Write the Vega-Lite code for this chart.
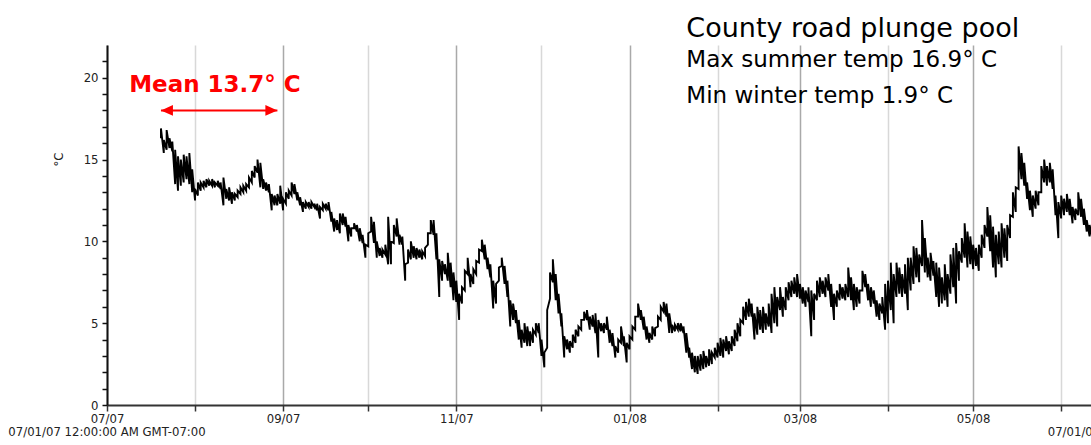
{
  "$schema": "https://vega.github.io/schema/vega-lite/v6.json",
  "width": 984,
  "height": 360,
  "autosize": {"type": "none"},
  "padding": {"left": 107, "top": 45, "right": 0, "bottom": 40},
  "background": "white",
  "config": {"view": {"stroke": null}},
  "encoding": {
    "x": {
      "field": "d",
      "type": "temporal",
      "scale": {"domain": [{"year": 2007, "month": 7, "date": 1}, {"year": 2008, "month": 6, "date": 11, "hours": 12}]},
      "axis": {
        "title": null,
        "tickCount": {"interval": "month", "step": 1},
        "grid": true,
        "gridColor": {"condition": {"test": "month(datum.value) % 2 === 0", "value": "#a9a9a9"}, "value": "#d8d8d8"},
        "gridWidth": 1.5,
        "labelExpr": "month(datum.value) % 2 === 0 ? timeFormat(datum.value, '%m/%y') : ''",
        "labelFlush": false,
        "labelOverlap": false,
        "labelFont": "DejaVu Sans",
        "labelFontSize": 11.7,
        "labelColor": "#222222",
        "labelPadding": 2,
        "domainColor": "#333333",
        "domainWidth": 2,
        "tickColor": "#333333",
        "tickWidth": 1.5,
        "tickSize": 6
      }
    },
    "y": {
      "field": "temp",
      "type": "quantitative",
      "scale": {"domain": [0, 22], "nice": false},
      "axis": {
        "title": "°C",
        "titleFont": "DejaVu Sans",
        "titleFontSize": 11.7,
        "titleFontWeight": "normal",
        "titleColor": "#222222",
        "titleX": -49,
        "titleY": 114,
        "titleAlign": "center",
        "titleBaseline": "middle",
        "values": [0, 1, 2, 3, 4, 5, 6, 7, 8, 9, 10, 11, 12, 13, 14, 15, 16, 17, 18, 19, 20, 21],
        "labelExpr": "datum.value % 5 === 0 ? datum.label : ''",
        "labelFont": "DejaVu Sans",
        "labelFontSize": 11.7,
        "labelColor": "#222222",
        "labelPadding": 4,
        "grid": false,
        "domainColor": "#111111",
        "domainWidth": 2,
        "tickColor": "#111111",
        "tickWidth": 1.5,
        "tickSize": 5
      }
    }
  },
  "layer": [
    {
      "data": {
        "format": {"parse": {"d": "date:'%Y-%m-%d'"}},
        "values": [
          {"d":"2007-07-20","lo":16.3,"hi":16.9},{"d":"2007-07-21","lo":15.4,"hi":16.2},{"d":"2007-07-22","lo":15.6,"hi":16.8},{"d":"2007-07-23","lo":15.7,"hi":16.3},{"d":"2007-07-24","lo":15.5,"hi":16.1},{"d":"2007-07-25","lo":13.5,"hi":15.6},{"d":"2007-07-26","lo":13.1,"hi":15.2},{"d":"2007-07-27","lo":13.4,"hi":15.0},{"d":"2007-07-28","lo":13.6,"hi":15.3},{"d":"2007-07-29","lo":13.8,"hi":15.2},{"d":"2007-07-30","lo":13.5,"hi":15.4},{"d":"2007-07-31","lo":13.0,"hi":14.4},
          {"d":"2007-08-01","lo":12.5,"hi":13.2},{"d":"2007-08-02","lo":12.8,"hi":13.6},{"d":"2007-08-03","lo":13.1,"hi":13.6},{"d":"2007-08-04","lo":13.3,"hi":13.7},{"d":"2007-08-05","lo":13.3,"hi":13.8},{"d":"2007-08-06","lo":13.4,"hi":13.7},{"d":"2007-08-07","lo":13.4,"hi":13.8},{"d":"2007-08-08","lo":13.3,"hi":13.6},{"d":"2007-08-09","lo":13.4,"hi":13.7},{"d":"2007-08-10","lo":13.2,"hi":13.6},{"d":"2007-08-11","lo":12.2,"hi":13.9},{"d":"2007-08-12","lo":12.6,"hi":13.2},{"d":"2007-08-13","lo":12.5,"hi":13.3},{"d":"2007-08-14","lo":12.3,"hi":13.0},{"d":"2007-08-15","lo":12.5,"hi":12.9},{"d":"2007-08-16","lo":12.7,"hi":13.1},{"d":"2007-08-17","lo":12.9,"hi":13.3},{"d":"2007-08-18","lo":13.0,"hi":13.4},{"d":"2007-08-19","lo":13.1,"hi":13.5},{"d":"2007-08-20","lo":13.3,"hi":13.9},{"d":"2007-08-21","lo":13.6,"hi":14.3},{"d":"2007-08-22","lo":13.9,"hi":14.6},{"d":"2007-08-23","lo":14.2,"hi":15.0},{"d":"2007-08-24","lo":13.3,"hi":14.8},{"d":"2007-08-25","lo":13.2,"hi":13.8},{"d":"2007-08-26","lo":13.1,"hi":13.6},{"d":"2007-08-27","lo":13.0,"hi":13.5},{"d":"2007-08-28","lo":11.9,"hi":12.9},{"d":"2007-08-29","lo":12.2,"hi":12.8},{"d":"2007-08-30","lo":12.2,"hi":12.9},{"d":"2007-08-31","lo":12.3,"hi":13.4},
          {"d":"2007-09-01","lo":11.9,"hi":12.6},{"d":"2007-09-02","lo":12.3,"hi":13.0},{"d":"2007-09-03","lo":12.6,"hi":13.1},{"d":"2007-09-04","lo":12.8,"hi":13.6},{"d":"2007-09-05","lo":12.9,"hi":13.5},{"d":"2007-09-06","lo":12.5,"hi":13.0},{"d":"2007-09-07","lo":12.2,"hi":12.7},{"d":"2007-09-08","lo":11.8,"hi":12.4},{"d":"2007-09-09","lo":12.0,"hi":12.4},{"d":"2007-09-10","lo":12.1,"hi":12.4},{"d":"2007-09-11","lo":12.0,"hi":12.4},{"d":"2007-09-12","lo":12.1,"hi":12.3},{"d":"2007-09-13","lo":11.9,"hi":12.3},{"d":"2007-09-14","lo":11.4,"hi":12.1},{"d":"2007-09-15","lo":11.9,"hi":12.3},{"d":"2007-09-16","lo":12.0,"hi":12.3},{"d":"2007-09-17","lo":11.9,"hi":12.4},{"d":"2007-09-18","lo":11.2,"hi":11.8},{"d":"2007-09-19","lo":10.6,"hi":11.4},{"d":"2007-09-20","lo":10.7,"hi":11.3},{"d":"2007-09-21","lo":10.5,"hi":11.7},{"d":"2007-09-22","lo":11.0,"hi":11.7},{"d":"2007-09-23","lo":10.9,"hi":11.5},{"d":"2007-09-24","lo":10.0,"hi":11.0},{"d":"2007-09-25","lo":10.3,"hi":10.8},{"d":"2007-09-26","lo":10.8,"hi":11.1},{"d":"2007-09-27","lo":10.6,"hi":11.0},{"d":"2007-09-28","lo":10.0,"hi":10.8},{"d":"2007-09-29","lo":9.9,"hi":10.4},{"d":"2007-09-30","lo":9.0,"hi":9.8},
          {"d":"2007-10-01","lo":9.7,"hi":10.5},{"d":"2007-10-02","lo":10.6,"hi":11.5},{"d":"2007-10-03","lo":9.9,"hi":11.2},{"d":"2007-10-04","lo":9.0,"hi":10.0},{"d":"2007-10-05","lo":9.1,"hi":9.6},{"d":"2007-10-06","lo":9.0,"hi":9.5},{"d":"2007-10-07","lo":9.2,"hi":9.8},{"d":"2007-10-08","lo":8.6,"hi":11.5},{"d":"2007-10-09","lo":8.6,"hi":10.0},{"d":"2007-10-10","lo":9.9,"hi":11.0},{"d":"2007-10-11","lo":10.3,"hi":11.4},{"d":"2007-10-12","lo":9.8,"hi":10.4},{"d":"2007-10-13","lo":9.8,"hi":10.3},{"d":"2007-10-14","lo":7.6,"hi":8.6},{"d":"2007-10-15","lo":8.7,"hi":9.5},{"d":"2007-10-16","lo":8.9,"hi":10.0},{"d":"2007-10-17","lo":9.0,"hi":9.7},{"d":"2007-10-18","lo":8.9,"hi":9.6},{"d":"2007-10-19","lo":9.0,"hi":9.5},{"d":"2007-10-20","lo":8.9,"hi":9.4},{"d":"2007-10-21","lo":9.1,"hi":9.6},{"d":"2007-10-22","lo":9.8,"hi":10.5},{"d":"2007-10-23","lo":10.5,"hi":11.3},{"d":"2007-10-24","lo":10.4,"hi":11.3},{"d":"2007-10-25","lo":8.9,"hi":10.5},{"d":"2007-10-26","lo":6.6,"hi":8.9},{"d":"2007-10-27","lo":7.6,"hi":8.8},{"d":"2007-10-28","lo":8.0,"hi":8.6},{"d":"2007-10-29","lo":7.6,"hi":9.3},{"d":"2007-10-30","lo":7.2,"hi":8.7},{"d":"2007-10-31","lo":6.4,"hi":8.1},
          {"d":"2007-11-01","lo":6.3,"hi":7.6},{"d":"2007-11-02","lo":5.2,"hi":6.8},{"d":"2007-11-03","lo":6.2,"hi":7.2},{"d":"2007-11-04","lo":7.0,"hi":8.2},{"d":"2007-11-05","lo":8.0,"hi":9.0},{"d":"2007-11-06","lo":7.2,"hi":8.0},{"d":"2007-11-07","lo":7.4,"hi":8.3},{"d":"2007-11-08","lo":8.0,"hi":8.8},{"d":"2007-11-09","lo":8.7,"hi":9.5},{"d":"2007-11-10","lo":9.4,"hi":10.1},{"d":"2007-11-11","lo":8.9,"hi":9.8},{"d":"2007-11-12","lo":8.3,"hi":9.0},{"d":"2007-11-13","lo":7.8,"hi":8.6},{"d":"2007-11-14","lo":5.9,"hi":7.6},{"d":"2007-11-15","lo":6.2,"hi":7.4},{"d":"2007-11-16","lo":7.6,"hi":8.4},{"d":"2007-11-17","lo":8.5,"hi":9.0},{"d":"2007-11-18","lo":7.4,"hi":8.5},{"d":"2007-11-19","lo":6.6,"hi":7.6},{"d":"2007-11-20","lo":4.8,"hi":6.4},{"d":"2007-11-21","lo":5.2,"hi":6.2},{"d":"2007-11-22","lo":5.0,"hi":5.8},{"d":"2007-11-23","lo":4.0,"hi":5.2},{"d":"2007-11-24","lo":3.5,"hi":4.6},{"d":"2007-11-25","lo":3.8,"hi":5.0},{"d":"2007-11-26","lo":3.6,"hi":4.8},{"d":"2007-11-27","lo":3.6,"hi":4.5},{"d":"2007-11-28","lo":3.8,"hi":4.6},{"d":"2007-11-29","lo":4.3,"hi":5.0},{"d":"2007-11-30","lo":4.4,"hi":5.0},
          {"d":"2007-12-01","lo":3.0,"hi":4.0},{"d":"2007-12-02","lo":2.3,"hi":3.2},{"d":"2007-12-03","lo":3.5,"hi":5.8},{"d":"2007-12-04","lo":6.5,"hi":8.1},{"d":"2007-12-05","lo":7.5,"hi":8.9},{"d":"2007-12-06","lo":6.4,"hi":8.0},{"d":"2007-12-07","lo":5.6,"hi":6.8},{"d":"2007-12-08","lo":4.8,"hi":5.6},{"d":"2007-12-09","lo":2.9,"hi":4.2},{"d":"2007-12-10","lo":3.4,"hi":4.0},{"d":"2007-12-11","lo":3.2,"hi":3.9},{"d":"2007-12-12","lo":3.5,"hi":4.3},{"d":"2007-12-13","lo":3.8,"hi":4.6},{"d":"2007-12-14","lo":4.2,"hi":4.8},{"d":"2007-12-15","lo":4.6,"hi":5.2},{"d":"2007-12-16","lo":5.2,"hi":5.7},{"d":"2007-12-17","lo":5.2,"hi":5.8},{"d":"2007-12-18","lo":4.6,"hi":5.4},{"d":"2007-12-19","lo":4.8,"hi":5.5},{"d":"2007-12-20","lo":4.4,"hi":5.6},{"d":"2007-12-21","lo":2.9,"hi":5.2},{"d":"2007-12-22","lo":4.5,"hi":5.0},{"d":"2007-12-23","lo":4.4,"hi":5.0},{"d":"2007-12-24","lo":4.6,"hi":5.4},{"d":"2007-12-25","lo":3.8,"hi":4.6},{"d":"2007-12-26","lo":3.6,"hi":4.4},{"d":"2007-12-27","lo":2.9,"hi":3.6},{"d":"2007-12-28","lo":3.2,"hi":4.0},{"d":"2007-12-29","lo":3.8,"hi":4.8},{"d":"2007-12-30","lo":3.6,"hi":4.2},{"d":"2007-12-31","lo":2.6,"hi":3.8},
          {"d":"2008-01-01","lo":3.4,"hi":4.2},{"d":"2008-01-02","lo":4.0,"hi":4.8},{"d":"2008-01-03","lo":4.6,"hi":5.4},{"d":"2008-01-04","lo":5.4,"hi":6.2},{"d":"2008-01-05","lo":5.2,"hi":5.8},{"d":"2008-01-06","lo":4.6,"hi":5.4},{"d":"2008-01-07","lo":4.0,"hi":4.8},{"d":"2008-01-08","lo":3.8,"hi":4.4},{"d":"2008-01-09","lo":4.0,"hi":4.8},{"d":"2008-01-10","lo":4.2,"hi":4.7},{"d":"2008-01-11","lo":4.8,"hi":5.4},{"d":"2008-01-12","lo":5.2,"hi":6.0},{"d":"2008-01-13","lo":5.7,"hi":6.3},{"d":"2008-01-14","lo":5.4,"hi":6.2},{"d":"2008-01-15","lo":4.4,"hi":5.6},{"d":"2008-01-16","lo":4.4,"hi":4.9},{"d":"2008-01-17","lo":4.5,"hi":4.9},{"d":"2008-01-18","lo":4.6,"hi":5.0},{"d":"2008-01-19","lo":4.5,"hi":5.0},{"d":"2008-01-20","lo":4.4,"hi":4.8},{"d":"2008-01-21","lo":3.2,"hi":4.4},{"d":"2008-01-22","lo":2.9,"hi":3.5},{"d":"2008-01-23","lo":2.2,"hi":3.2},{"d":"2008-01-24","lo":2.0,"hi":3.0},{"d":"2008-01-25","lo":1.9,"hi":3.0},{"d":"2008-01-26","lo":2.1,"hi":3.1},{"d":"2008-01-27","lo":2.2,"hi":3.3},{"d":"2008-01-28","lo":2.3,"hi":3.0},{"d":"2008-01-29","lo":2.4,"hi":3.4},{"d":"2008-01-30","lo":2.5,"hi":3.2},{"d":"2008-01-31","lo":2.9,"hi":3.5},
          {"d":"2008-02-01","lo":2.9,"hi":3.8},{"d":"2008-02-02","lo":3.0,"hi":4.1},{"d":"2008-02-03","lo":2.9,"hi":4.0},{"d":"2008-02-04","lo":3.3,"hi":4.2},{"d":"2008-02-05","lo":3.1,"hi":3.9},{"d":"2008-02-06","lo":3.3,"hi":4.2},{"d":"2008-02-07","lo":3.6,"hi":4.6},{"d":"2008-02-08","lo":3.9,"hi":5.0},{"d":"2008-02-09","lo":4.2,"hi":5.2},{"d":"2008-02-10","lo":5.0,"hi":6.0},{"d":"2008-02-11","lo":5.2,"hi":6.3},{"d":"2008-02-12","lo":5.4,"hi":6.5},{"d":"2008-02-13","lo":5.4,"hi":6.2},{"d":"2008-02-14","lo":4.0,"hi":5.6},{"d":"2008-02-15","lo":4.3,"hi":6.0},{"d":"2008-02-16","lo":4.6,"hi":5.8},{"d":"2008-02-17","lo":4.4,"hi":6.0},{"d":"2008-02-18","lo":4.6,"hi":5.6},{"d":"2008-02-19","lo":4.8,"hi":6.2},{"d":"2008-02-20","lo":4.4,"hi":6.8},{"d":"2008-02-21","lo":5.0,"hi":7.2},{"d":"2008-02-22","lo":4.8,"hi":6.6},{"d":"2008-02-23","lo":5.8,"hi":7.2},{"d":"2008-02-24","lo":5.4,"hi":6.6},{"d":"2008-02-25","lo":5.8,"hi":7.2},{"d":"2008-02-26","lo":6.4,"hi":7.5},{"d":"2008-02-27","lo":6.6,"hi":7.6},{"d":"2008-02-28","lo":6.8,"hi":7.8},{"d":"2008-02-29","lo":6.6,"hi":8.0},
          {"d":"2008-03-01","lo":6.5,"hi":7.4},{"d":"2008-03-02","lo":6.2,"hi":7.2},{"d":"2008-03-03","lo":6.0,"hi":7.0},{"d":"2008-03-04","lo":6.3,"hi":7.2},{"d":"2008-03-05","lo":4.2,"hi":7.0},{"d":"2008-03-06","lo":5.2,"hi":6.8},{"d":"2008-03-07","lo":6.4,"hi":7.6},{"d":"2008-03-08","lo":6.6,"hi":7.8},{"d":"2008-03-09","lo":6.8,"hi":7.6},{"d":"2008-03-10","lo":6.6,"hi":7.8},{"d":"2008-03-11","lo":7.0,"hi":8.0},{"d":"2008-03-12","lo":6.0,"hi":7.4},{"d":"2008-03-13","lo":5.2,"hi":6.8},{"d":"2008-03-14","lo":6.0,"hi":7.0},{"d":"2008-03-15","lo":6.4,"hi":7.4},{"d":"2008-03-16","lo":6.5,"hi":7.2},{"d":"2008-03-17","lo":6.4,"hi":7.4},{"d":"2008-03-18","lo":6.6,"hi":8.4},{"d":"2008-03-19","lo":6.4,"hi":7.8},{"d":"2008-03-20","lo":5.8,"hi":7.4},{"d":"2008-03-21","lo":6.0,"hi":7.2},{"d":"2008-03-22","lo":6.2,"hi":7.0},{"d":"2008-03-23","lo":7.0,"hi":8.2},{"d":"2008-03-24","lo":7.2,"hi":8.0},{"d":"2008-03-25","lo":6.4,"hi":7.4},{"d":"2008-03-26","lo":6.0,"hi":7.2},{"d":"2008-03-27","lo":6.2,"hi":7.0},{"d":"2008-03-28","lo":5.4,"hi":6.4},{"d":"2008-03-29","lo":5.2,"hi":6.2},{"d":"2008-03-30","lo":5.6,"hi":6.6},{"d":"2008-03-31","lo":4.6,"hi":7.4},
          {"d":"2008-04-01","lo":5.0,"hi":7.6},{"d":"2008-04-02","lo":5.8,"hi":8.7},{"d":"2008-04-03","lo":5.0,"hi":8.0},{"d":"2008-04-04","lo":6.6,"hi":8.7},{"d":"2008-04-05","lo":6.8,"hi":8.4},{"d":"2008-04-06","lo":6.6,"hi":8.0},{"d":"2008-04-07","lo":6.8,"hi":8.6},{"d":"2008-04-08","lo":5.8,"hi":9.0},{"d":"2008-04-09","lo":7.0,"hi":9.0},{"d":"2008-04-10","lo":7.4,"hi":9.7},{"d":"2008-04-11","lo":7.8,"hi":9.6},{"d":"2008-04-12","lo":7.5,"hi":9.2},{"d":"2008-04-13","lo":8.5,"hi":11.3},{"d":"2008-04-14","lo":8.1,"hi":10.2},{"d":"2008-04-15","lo":7.8,"hi":9.0},{"d":"2008-04-16","lo":7.6,"hi":9.3},{"d":"2008-04-17","lo":7.9,"hi":8.8},{"d":"2008-04-18","lo":6.6,"hi":8.7},{"d":"2008-04-19","lo":6.0,"hi":8.4},{"d":"2008-04-20","lo":6.2,"hi":7.8},{"d":"2008-04-21","lo":6.4,"hi":8.6},{"d":"2008-04-22","lo":6.0,"hi":8.0},{"d":"2008-04-23","lo":6.8,"hi":9.2},{"d":"2008-04-24","lo":7.2,"hi":9.6},{"d":"2008-04-25","lo":6.2,"hi":9.9},{"d":"2008-04-26","lo":7.6,"hi":9.4},{"d":"2008-04-27","lo":8.7,"hi":10.2},{"d":"2008-04-28","lo":9.0,"hi":11.1},{"d":"2008-04-29","lo":8.4,"hi":10.6},{"d":"2008-04-30","lo":8.6,"hi":10.3},
          {"d":"2008-05-01","lo":8.3,"hi":9.8},{"d":"2008-05-02","lo":8.5,"hi":9.6},{"d":"2008-05-03","lo":8.2,"hi":9.8},{"d":"2008-05-04","lo":9.0,"hi":10.4},{"d":"2008-05-05","lo":9.6,"hi":11.0},{"d":"2008-05-06","lo":10.3,"hi":12.1},{"d":"2008-05-07","lo":9.4,"hi":11.6},{"d":"2008-05-08","lo":8.4,"hi":10.9},{"d":"2008-05-09","lo":7.8,"hi":10.4},{"d":"2008-05-10","lo":8.6,"hi":10.6},{"d":"2008-05-11","lo":8.4,"hi":11.1},{"d":"2008-05-12","lo":9.0,"hi":10.8},{"d":"2008-05-13","lo":8.8,"hi":11.0},{"d":"2008-05-14","lo":10.2,"hi":11.6},{"d":"2008-05-15","lo":11.5,"hi":13.0},{"d":"2008-05-16","lo":11.8,"hi":13.3},{"d":"2008-05-17","lo":13.2,"hi":15.8},{"d":"2008-05-18","lo":13.8,"hi":15.4},{"d":"2008-05-19","lo":13.4,"hi":14.8},{"d":"2008-05-20","lo":12.6,"hi":13.6},{"d":"2008-05-21","lo":11.9,"hi":13.1},{"d":"2008-05-22","lo":11.5,"hi":12.8},{"d":"2008-05-23","lo":12.0,"hi":13.1},{"d":"2008-05-24","lo":12.2,"hi":13.0},{"d":"2008-05-25","lo":13.0,"hi":14.6},{"d":"2008-05-26","lo":13.6,"hi":15.0},{"d":"2008-05-27","lo":13.4,"hi":14.6},{"d":"2008-05-28","lo":13.6,"hi":14.8},{"d":"2008-05-29","lo":13.2,"hi":14.4},{"d":"2008-05-30","lo":11.6,"hi":12.8},{"d":"2008-05-31","lo":10.2,"hi":12.4},
          {"d":"2008-06-01","lo":11.4,"hi":12.8},{"d":"2008-06-02","lo":11.6,"hi":12.6},{"d":"2008-06-03","lo":11.8,"hi":12.9},{"d":"2008-06-04","lo":11.6,"hi":12.6},{"d":"2008-06-05","lo":11.1,"hi":12.1},{"d":"2008-06-06","lo":11.3,"hi":12.0},{"d":"2008-06-07","lo":11.6,"hi":13.0},{"d":"2008-06-08","lo":11.5,"hi":12.6},{"d":"2008-06-09","lo":11.0,"hi":12.0},{"d":"2008-06-10","lo":10.6,"hi":11.3},{"d":"2008-06-11","lo":10.3,"hi":11.0},{"d":"2008-06-12","lo":10.2,"hi":10.8}
        ]
      },
      "transform": [{"fold": ["lo", "hi"], "as": ["bound", "temp"]}],
      "mark": {"type": "line", "color": "#000000", "strokeWidth": 1.9, "clip": true}
    },
    {
      "data": {
        "format": {"parse": {"d": "date:'%Y-%m-%d'", "e": "date:'%Y-%m-%d'"}},
        "values": [{"d": "2007-07-20", "e": "2007-08-30", "temp": 18}]
      },
      "mark": {"type": "rule", "color": "#ff0000", "strokeWidth": 2},
      "encoding": {"x2": {"field": "e"}}
    },
    {
      "data": {
        "format": {"parse": {"d": "date:'%Y-%m-%d'"}},
        "values": [
          {"d": "2007-07-20", "temp": 18, "end": "left"},
          {"d": "2007-08-30", "temp": 18, "end": "right"}
        ]
      },
      "mark": {"type": "point", "filled": true, "color": "#ff0000", "opacity": 1, "size": 144},
      "encoding": {
        "shape": {
          "field": "end",
          "type": "nominal",
          "scale": {"domain": ["left", "right"], "range": ["M0,0L2,-0.9L2,0.9Z", "M0,0L-2,-0.9L-2,0.9Z"]},
          "legend": null
        }
      }
    },
    {
      "data": {
        "format": {"parse": {"d": "date:'%Y-%m-%d'"}},
        "values": [{"d": "2007-08-08", "temp": 19.1, "label": "Mean 13.7° C"}]
      },
      "mark": {"type": "text", "color": "#ff0000", "font": "DejaVu Sans", "fontWeight": "bold", "fontSize": 23, "align": "center", "baseline": "alphabetic"},
      "encoding": {"text": {"field": "label"}}
    },
    {
      "data": {
        "format": {"parse": {"d": "date:'%Y-%m-%d'"}},
        "values": [{"d": "2008-01-21", "temp": 22.5, "label": "County road plunge pool"}]
      },
      "mark": {"type": "text", "color": "#000000", "font": "DejaVu Sans", "fontSize": 27, "align": "left", "baseline": "alphabetic"},
      "encoding": {"text": {"field": "label"}}
    },
    {
      "data": {
        "format": {"parse": {"d": "date:'%Y-%m-%d'"}},
        "values": [
          {"d": "2008-01-21", "temp": 20.66, "label": "Max summer temp 16.9° C"},
          {"d": "2008-01-21", "temp": 18.46, "label": "Min winter temp 1.9° C"}
        ]
      },
      "mark": {"type": "text", "color": "#000000", "font": "DejaVu Sans", "fontSize": 23, "align": "left", "baseline": "alphabetic"},
      "encoding": {"text": {"field": "label"}}
    },
    {
      "data": {
        "format": {"parse": {"d": "date:'%Y-%m-%d'"}},
        "values": [
          {"d": "2007-07-01", "temp": -1.65, "label": "07/01/07 12:00:00 AM GMT-07:00"},
          {"d": "2008-07-01", "temp": -1.65, "label": "07/01/08 12:00:00 AM GMT-07:00"}
        ]
      },
      "mark": {"type": "text", "color": "#222222", "font": "DejaVu Sans", "fontSize": 11.7, "align": "center", "baseline": "middle"},
      "encoding": {"text": {"field": "label"}}
    }
  ]
}
